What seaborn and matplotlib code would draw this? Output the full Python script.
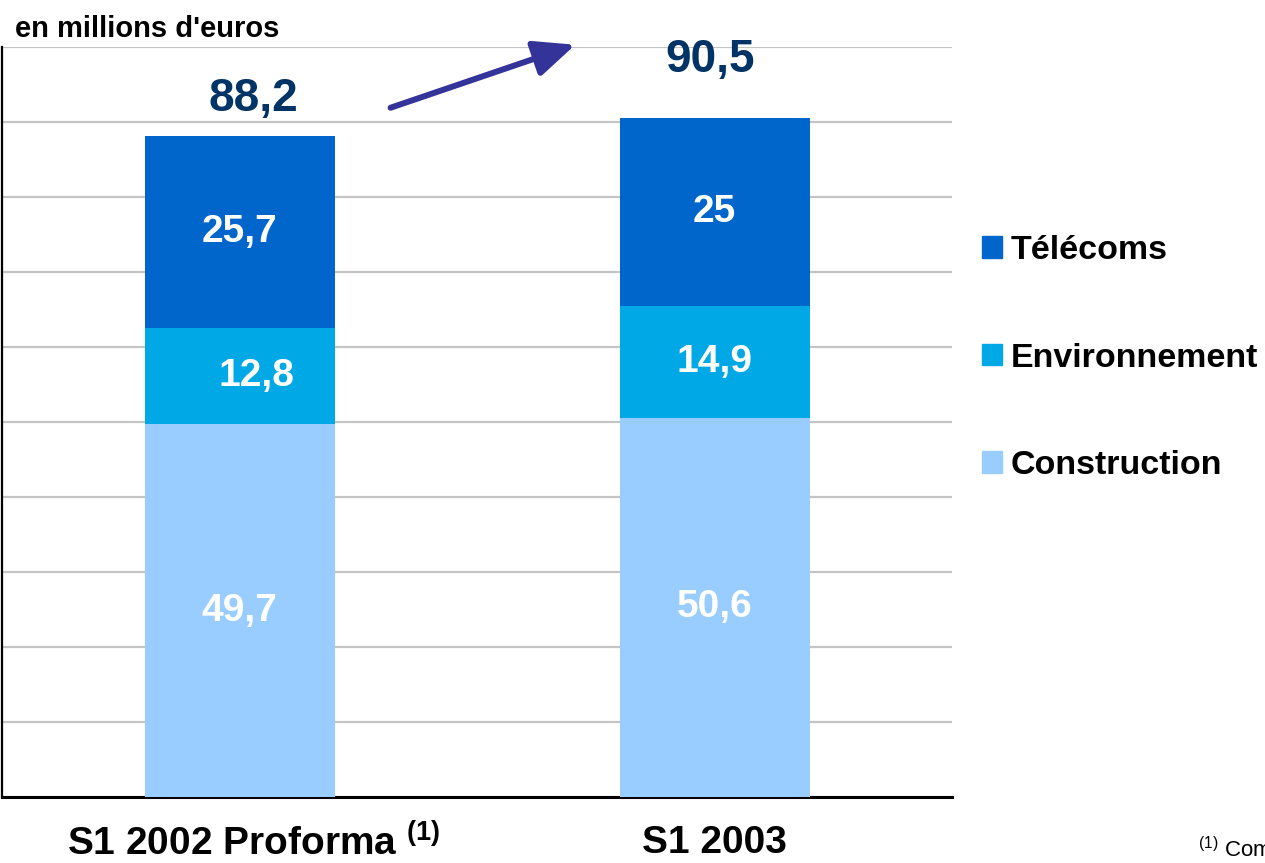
import pandas as pd
import matplotlib.pyplot as plt
import matplotlib.transforms as mtransforms
import seaborn as sns
from matplotlib.patches import Patch

periodes = ['S1 2002 Proforma $^{\\mathbf{(1)}}$', 'S1 2003']
segments = ['Construction', 'Environnement', 'Télécoms']
construction = [49.7, 50.6]
environnement = [12.8, 14.9]
telecoms = [25.7, 25.0]
totaux = [88.2, 90.5]
couleurs = {'Construction': '#99CCFF', 'Environnement': '#00A8E6', 'Télécoms': '#0066CC'}

sns.set_style('white')
plt.rcParams['font.family'] = ['Liberation Sans', 'DejaVu Sans']
plt.rcParams['text.color'] = 'black'
plt.rcParams['xtick.color'] = 'black'
plt.rcParams['mathtext.fontset'] = 'custom'
plt.rcParams['mathtext.rm'] = 'Liberation Sans'
plt.rcParams['mathtext.bf'] = 'Liberation Sans:bold'

df = pd.DataFrame({'periode': periodes, 'Construction': construction,
                   'Environnement': environnement, 'Télécoms': telecoms})
df['bas_env'] = df['Construction']
df['bas_tel'] = df['Construction'] + df['Environnement']
df['haut'] = df['bas_tel'] + df['Télécoms']

fig = plt.figure(figsize=(12.65, 8.63), dpi=100)
ax = fig.add_axes([2 / 1265, 66 / 863, 950 / 1265, 750 / 863])

# barres empilées : on dessine les cumuls du plus haut au plus bas
sns.barplot(data=df, x='periode', y='haut', color=couleurs['Télécoms'], width=0.4,
            saturation=1, errorbar=None, ax=ax, zorder=3, linewidth=0)
sns.barplot(data=df, x='periode', y='bas_tel', color=couleurs['Environnement'], width=0.4,
            saturation=1, errorbar=None, ax=ax, zorder=3, linewidth=0)
sns.barplot(data=df, x='periode', y='bas_env', color=couleurs['Construction'], width=0.4,
            saturation=1, errorbar=None, ax=ax, zorder=3, linewidth=0)

ax.set_xlim(-0.5, 1.5)
ax.set_ylim(0, 100)
ax.set_yticks(range(0, 101, 10))
ax.set_yticklabels([])
ax.yaxis.grid(True, color='#C4C4C4', linewidth=1.6, zorder=0)
ax.set_axisbelow(True)
ax.tick_params(length=0)
ax.set_xlabel('')
ax.set_ylabel('')
ax.set_xticks([0, 1])
ax.set_xticklabels(periodes, fontsize=28, fontweight='bold')
ax.tick_params(axis='x', pad=20)
# le premier libellé est légèrement décalé vers la droite
lab0 = ax.get_xticklabels()[0]
lab0.set_transform(lab0.get_transform() + mtransforms.ScaledTranslation(14 / 100, 0, fig.dpi_scale_trans))
for s in ['top', 'right']:
    ax.spines[s].set_visible(False)
ax.spines['left'].set_linewidth(1.6)
ax.spines['bottom'].set_linewidth(2.2)
ax.spines['left'].set_color('black')
ax.spines['bottom'].set_color('black')

# valeurs des segments
decal_x = [[0, 0], [12, 0], [0, 0]]
for j, seg in enumerate(['Construction', 'Environnement', 'Télécoms']):
    bas = [0, 0] if seg == 'Construction' else (df['bas_env'] if seg == 'Environnement' else df['bas_tel'])
    for i in range(2):
        v = df[seg][i]
        txt = f'{v:g}'.replace('.', ',')
        ax.annotate(txt, (i, bas[i] + v / 2), xytext=(decal_x[j][i], 0), textcoords='offset points',
                    ha='center', va='center', color='white', fontsize=28, fontweight='bold', zorder=5)

# totaux
decal_tot = [(10, 26), (-3, 42)]
for i, t in enumerate(totaux):
    ax.annotate(f'{t:g}'.replace('.', ','), (i, df['haut'][i]), xytext=decal_tot[i],
                textcoords='offset points', ha='center', va='center', color='#003366',
                fontsize=33, fontweight='bold', annotation_clip=False)

ax.annotate('', xy=(0.707, 100.3), xytext=(0.318, 91.9),
            arrowprops=dict(arrowstyle='-|>,head_length=2.5,head_width=1.1', color='#333399', lw=4.3,
                            shrinkA=0, shrinkB=0),
            annotation_clip=False)

handles = [Patch(color=couleurs[s], label=s) for s in ['Télécoms', 'Environnement', 'Construction']]
fig.legend(handles=handles, loc='upper left', bbox_to_anchor=(982 / 1265, 1 - 235 / 863),
           frameon=False, prop={'size': 24.5, 'weight': 'bold'}, handlelength=0.6, handleheight=0.6,
           handletextpad=0.25, labelspacing=2.25, borderaxespad=0, borderpad=0)

fig.text(15 / 1265, 1 - 29 / 863, "en millions d'euros", fontsize=21, fontweight='bold', va='center')
fig.text(1198 / 1265, 1 - 850 / 863, '$^{(1)}$ Comparable', fontsize=16, va='center')

fig.savefig('out.png', dpi=100)
